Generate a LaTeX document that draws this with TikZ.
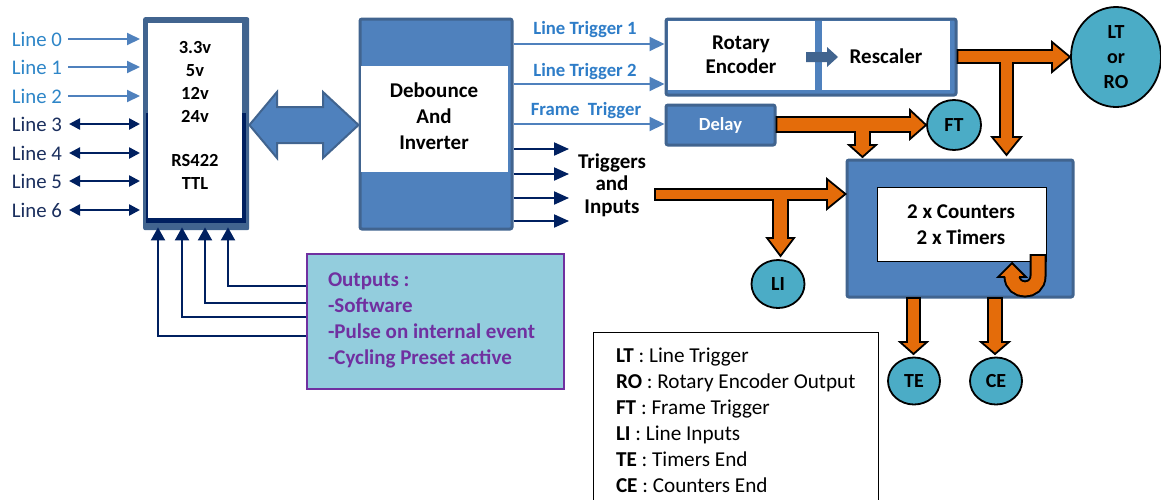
\documentclass[tikz,border=0pt]{standalone}
\usepackage{fontspec}
\setmainfont{Carlito}
\usetikzlibrary{arrows.meta,shapes.geometric}
\definecolor{bmid}{HTML}{4F81BD}
\definecolor{bframe}{HTML}{41648F}
\definecolor{navyc}{HTML}{002060}
\definecolor{ltxt}{HTML}{2E86C8}
\definecolor{ntxt}{HTML}{1B2F5E}
\definecolor{trigc}{HTML}{2E7DC8}
\definecolor{orng}{HTML}{E46C0A}
\definecolor{tealc}{HTML}{4BACC6}
\definecolor{outfill}{HTML}{93CDDD}
\definecolor{purp}{HTML}{7030A0}
\tikzset{
  txt/.style={inner sep=0pt, outer sep=0pt},
  linelab/.style={txt, anchor=west, font=\fontsize{20.8}{24}\selectfont},
  boldtxt/.style={txt, align=center, font=\fontsize{#1}{#1}\selectfont\bfseries},
  la/.style={draw=bmid, line width=2, -{Triangle[length=13pt,width=12pt]}},
  da/.style={draw=navyc, line width=2.5, {Triangle[length=11pt,width=11pt]}-{Triangle[length=11pt,width=11pt]}},
  ta/.style={draw=bmid, line width=2, -{Triangle[length=15pt,width=14pt]}},
  na/.style={draw=navyc, line width=2, -{Triangle[length=15pt,width=13pt]}},
  oa/.style={draw=navyc, line width=2, -{Triangle[length=13pt,width=14pt]}},
  bluebox/.style={fill=bmid, draw=bframe, line width=3, rounded corners=2, inner sep=0pt, anchor=north west},
  orangearrow/.style={fill=orng, draw=black, line width=1.8, line join=miter},
  circ/.style={ellipse, fill=tealc, draw=black, line width=1.8, inner sep=0pt, align=center, font=\fontsize{20}{25}\selectfont\bfseries},
}
\begin{document}
\begin{tikzpicture}[x=1pt,y=-1pt]
\useasboundingbox (0,0) rectangle (1161,499);
\fill[white] (0,0) rectangle (1161,499);

% ---------- I/O box ----------
\node[fill=bframe, rounded corners=2, minimum width=106, minimum height=213, inner sep=0pt, anchor=north west] (io) at (143,17) {};
\fill[navyc] (146,113) rectangle (246,223);
\fill[white] (148,23) rectangle (242,218);
\node[boldtxt=18, font=\fontsize{18.5}{23}\selectfont\bfseries] (volts) at (195,82) {3.3v\\5v\\12v\\24v};
\node[boldtxt=18, font=\fontsize{18.5}{23}\selectfont\bfseries] (rs) at (195,172) {RS422\\TTL};

% ---------- line labels ----------
\node[linelab, text=ltxt] (L0) at (12,39) {Line 0};
\node[linelab, text=ltxt] (L1) at (12,67) {Line 1};
\node[linelab, text=ltxt] (L2) at (12,96) {Line 2};
\node[linelab, text=ntxt] (L3) at (12,124) {Line 3};
\node[linelab, text=ntxt] (L4) at (12,153) {Line 4};
\node[linelab, text=ntxt] (L5) at (12,181) {Line 5};
\node[linelab, text=ntxt] (L6) at (12,210) {Line 6};
\foreach \n in {L0,L1,L2}
  \draw[la, shorten <=6, shorten >=3] (\n.east) -- (\n.east -| io.west);
\foreach \n in {L3,L4,L5,L6}
  \draw[da, shorten <=7, shorten >=3] (\n.east) -- (\n.east -| io.west);

% ---------- Debounce box ----------
\node[bluebox, minimum width=152, minimum height=210] (deb) at (358.5,17.5) {};
\fill[white] (361,66) rectangle (508,172);
\node[boldtxt=21, font=\fontsize{21}{26}\selectfont\bfseries] (debt) at (434,116) {Debounce\\And\\Inverter};

% big double arrow
\filldraw[fill=bmid, draw=bframe, line width=2, line join=miter]
  (io.east |- 0,125) -- (277,92) -- (277,107) -- (323,107) -- (323,92) -- (deb.west |- 0,125)
  -- (323,158) -- (323,143) -- (277,143) -- (277,158) -- cycle;

% ---------- Rotary encoder / rescaler ----------
\node[bluebox, minimum width=290, minimum height=76] (rot) at (664.5,17.5) {};
\fill[white] (668,21) rectangle (815,90);
\fill[white] (822,21) rectangle (950,90);
\node[boldtxt=21, font=\fontsize{21}{24}\selectfont\bfseries] (rott) at (741,55) {Rotary\\Encoder};
\node[boldtxt=21] (resc) at (886,56) {Rescaler};
\fill[bframe] (806,52) -- (827,52) -- (827,47) -- (838,57) -- (827,67) -- (827,62) -- (806,62) -- cycle;

% ---------- Delay ----------
\node[bluebox, minimum width=109, minimum height=40] (del) at (664.5,103.5) {};
\node[boldtxt=18.5, text=white] (delt) at (del.center) {Delay};

% ---------- trigger labels and arrows ----------
\node[boldtxt=18.7, text=trigc] (lt1) at (585,30) {Line Trigger 1};
\node[boldtxt=18.7, text=trigc] (lt2) at (585,72) {Line Trigger 2};
\node[boldtxt=18.7, text=trigc] (ftl) at (586,111) {Frame~ Trigger};
\draw[ta] (deb.east |- 0,44) -- (rot.west |- 0,44);
\draw[ta] (deb.east |- 0,84) -- (rot.west |- 0,84);
\draw[ta] (deb.east |- 0,124) -- (del.west |- 0,124);

\node[boldtxt=21, font=\fontsize{21}{22.5}\selectfont\bfseries] (tin) at (612,185) {Triggers\\and\\Inputs};
\foreach \yy in {149,174,198,221}
  \draw[na, shorten >=9] (deb.east |- 0,\yy) -- (tin.west |- 0,\yy);

% ---------- counters box ----------
\node[bluebox, minimum width=226, minimum height=137] (cnt) at (845.5,158.5) {};
\node[fill=white, draw=black, line width=1.2, minimum width=169, minimum height=74, inner sep=0pt, anchor=north west] (cin) at (877,187) {};
\node[boldtxt=21, font=\fontsize{21}{26}\selectfont\bfseries] (cint) at (961,225) {2 x Counters\\2 x Timers};

% U-turn arrow
\draw[black, line width=17] (1038,254) -- (1038,276) .. controls (1038,293.3) and (1012,293.3) .. (1012,276);
\draw[orng, line width=13] (1038,256) -- (1038,276) .. controls (1038,293.3) and (1012,293.3) .. (1012,276);
\fill[orng] (998,277) -- (1012,263) -- (1026,277) -- cycle;
\draw[black, line width=1.8, line join=miter] (1005,277) -- (998,277) -- (1012,263) -- (1026,277) -- (1019,277);

% ---------- circles ----------
\node[circ, minimum width=54, minimum height=50] (FT) at (954,125) {FT};
\node[circ, minimum width=90, minimum height=100] (LTRO) at (1116,57) {LT\\or\\RO};
\node[circ, minimum width=53, minimum height=48] (LI) at (778,284) {LI};
\node[circ, minimum width=52, minimum height=47] (TE) at (914,381) {TE};
\node[circ, minimum width=52, minimum height=47] (CE) at (996,381) {CE};

% ---------- orange arrows ----------
\filldraw[orangearrow] (del.east |- 0,117) -- (910,117) -- (910,110) -- (FT.west) -- (910,139) -- (910,132)
  -- (870,132) -- (870,145) -- (876,145) -- (862.5,157) -- (849,145) -- (855,145) -- (855,132) -- (del.east |- 0,132) -- cycle;
\filldraw[orangearrow] (rot.east |- 0,50) -- (1052,50) -- (1052,42) -- (LTRO.west) -- (1052,72) -- (1052,63)
  -- (1013,63) -- (1013,137) -- (1021,137) -- (1006.5,155) -- (992,137) -- (1000,137) -- (1000,63) -- (rot.east |- 0,63) -- cycle;
\filldraw[orangearrow] (655,189) -- (827,189) -- (827,179) -- (cnt.west |- 0,194) -- (827,209) -- (827,200)
  -- (788,200) -- (788,238) -- (794,238) -- (780.5,256) -- (767,238) -- (773,238) -- (773,200) -- (655,200) -- cycle;
\filldraw[orangearrow] (907,298) -- (907,342) -- (900,342) -- (913.5,354) -- (927,342) -- (920,342) -- (920,298) -- cycle;
\filldraw[orangearrow] (988,298) -- (988,342) -- (981,342) -- (995,354) -- (1009,342) -- (1002,342) -- (1002,298) -- cycle;

% ---------- outputs box ----------
\node[fill=outfill, draw=purp, line width=2, minimum width=257, minimum height=135, inner sep=0pt, anchor=north west] (outb) at (306,253) {};
\node[txt, anchor=west, align=left, text=purp, font=\fontsize{21}{26}\selectfont\bfseries] (outt) at (328,320)
  {Outputs :\\-Software\\-Pulse on internal event\\-Cycling Preset active};
\draw[oa, shorten >=-3] (outb.west |- 0,286) -| (io.south -| 228,0);
\draw[oa, shorten >=-3] (outb.west |- 0,303) -| (io.south -| 205,0);
\draw[oa, shorten >=-3] (outb.west |- 0,317) -| (io.south -| 182,0);
\draw[oa, shorten >=-3] (outb.west |- 0,336) -| (io.south -| 158,0);

% ---------- legend ----------
\node[draw=black, line width=1, minimum width=285, minimum height=190, inner sep=0pt, anchor=north west] (leg) at (593,332) {};
\node[txt, anchor=west, align=left, font=\fontsize{21.2}{26}\selectfont] (legt) at (616,420)
  {\textbf{LT} : Line Trigger\\\textbf{RO} : Rotary Encoder Output\\\textbf{FT} : Frame Trigger\\\textbf{LI} : Line Inputs\\\textbf{TE} : Timers End\\\textbf{CE} : Counters End};
\end{tikzpicture}
\end{document}
